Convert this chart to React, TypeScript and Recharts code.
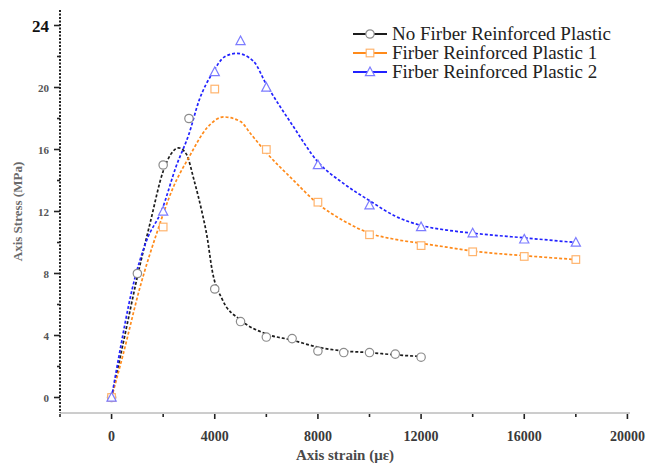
import React from 'react';
import { ComposedChart, Line, Scatter, XAxis, YAxis, Legend } from 'recharts';

const seriesNames = ['No Firber Reinforced Plastic', 'Firber Reinforced Plastic 1', 'Firber Reinforced Plastic 2'];
const lineColors = ['#1c1c1c', '#ff8a1a', '#2222ff'];
const markerColors = ['#8c8c8c', '#ffb46e', '#7c7cff'];

// fitted curves (strain in micro-strain, stress in MPa)
const noFrpCurveX = [0, 500, 1000, 1500, 2000, 2300, 2600, 2900, 3200, 3500, 3700, 3900, 4300, 5000, 6000, 7000, 8000, 9000, 10000, 11000, 12000];
const noFrpCurveY = [0, 3.9, 7.8, 11.3, 14.6, 15.7, 16.1, 15.7, 14.0, 12.0, 10.4, 8.2, 6.3, 5.0, 4.1, 3.7, 3.25, 3.0, 2.9, 2.75, 2.65];

const frp1CurveX = [0, 450, 1100, 1750, 2400, 3000, 3700, 4350, 5000, 5400, 6000, 7000, 8000, 9000, 10000, 11000, 12000, 13000, 14000, 16000, 18000];
const frp1CurveY = [0, 2.8, 7.1, 10.6, 13.6, 15.5, 17.4, 18.1, 17.8, 17.0, 15.8, 14.1, 12.5, 11.4, 10.6, 10.2, 9.95, 9.7, 9.45, 9.15, 8.9];

const frp2CurveX = [0, 300, 800, 1350, 1950, 2500, 3000, 3400, 3900, 4400, 4850, 5500, 6000, 7000, 8000, 9000, 10000, 11000, 12000, 13000, 14000, 16000, 18000];
const frp2CurveY = [0, 2.8, 7.0, 10.1, 12.1, 14.9, 17.0, 19.2, 20.9, 22.0, 22.2, 21.7, 20.2, 17.6, 15.2, 13.8, 12.7, 11.7, 11.1, 10.8, 10.6, 10.3, 10.0];

// measured points
const noFrpPtsX = [0, 1000, 2000, 3000, 4000, 5000, 6000, 7000, 8000, 9000, 10000, 11000, 12000];
const noFrpPtsY = [0, 8, 15, 18, 7, 4.9, 3.9, 3.8, 3.0, 2.9, 2.9, 2.8, 2.6];

const frp1PtsX = [0, 2000, 4000, 6000, 8000, 10000, 12000, 14000, 16000, 18000];
const frp1PtsY = [0, 11, 19.9, 16, 12.6, 10.5, 9.8, 9.4, 9.1, 8.9];

const frp2PtsX = [0, 2000, 4000, 5000, 6000, 8000, 10000, 12000, 14000, 16000, 18000];
const frp2PtsY = [0, 12, 21, 23, 20, 15, 12.4, 11, 10.6, 10.2, 10.0];

const xTicks = [-2000, 0, 2000, 4000, 6000, 8000, 10000, 12000, 14000, 16000, 18000, 20000];
const yTicks = [0, 2, 4, 6, 8, 10, 12, 14, 16, 18, 20, 22, 24];

const zip = (xs: number[], ys: number[]) => xs.map((x, i) => ({ x, y: ys[i] }));

const curves = [zip(noFrpCurveX, noFrpCurveY), zip(frp1CurveX, frp1CurveY), zip(frp2CurveX, frp2CurveY)];
const points = [zip(noFrpPtsX, noFrpPtsY), zip(frp1PtsX, frp1PtsY), zip(frp2PtsX, frp2PtsY)];

const FONT = "'Times New Roman', 'Liberation Serif', serif";

const Marker = ({ kind, cx, cy, color }: { kind: number; cx: number; cy: number; color: string }) => {
  if (kind === 0) return <circle cx={cx} cy={cy} r={4.2} fill="#fff" stroke={color} strokeWidth={1.2} />;
  if (kind === 1) return <rect x={cx - 3.8} y={cy - 3.8} width={7.6} height={7.6} fill="#fff" stroke={color} strokeWidth={1.2} />;
  return <path d={`M${cx},${cy - 5} L${cx + 4.6},${cy + 3.6} L${cx - 4.6},${cy + 3.6} Z`} fill="#fff" stroke={color} strokeWidth={1.2} />;
};

const XTick = (props: any) => {
  const { x, y, payload } = props;
  const v = payload.value;
  const major = v % 4000 === 0;
  return (
    <g>
      <line x1={x} x2={x} y1={y + 1} y2={y + (major ? 6 : 4)} stroke="#222" strokeWidth={1.6} />
      {major && (
        <text x={x} y={y + 28} textAnchor="middle" fontFamily={FONT} fontSize={14} fontWeight="bold" fill="#3a3a3a">
          {v}
        </text>
      )}
    </g>
  );
};

const YTick = (props: any) => {
  const { x, y, payload } = props;
  const v = payload.value;
  const major = v % 4 === 0;
  const top = v === 24;
  return (
    <g>
      <line x1={x - (major ? 6 : 3)} x2={x} y1={y} y2={y} stroke="#222" strokeWidth={1.6} />
      {major && (
        <text
          x={x - 11}
          y={y + (top ? 6 : 4)}
          textAnchor="end"
          fontFamily={FONT}
          fontSize={top ? 17 : 11}
          fontWeight="bold"
          fill={top ? '#111' : '#555'}
        >
          {v}
        </text>
      )}
    </g>
  );
};

// legend drawn as svg text so it uses the same serif face as the axes
const LegendBox = () => (
  <svg width={290} height={60} style={{ display: 'block' }}>
    {seriesNames.map((name, i) => (
      <g key={name}>
        <line x1={3} x2={37} y1={10 + i * 19} y2={10 + i * 19} stroke={lineColors[i]} strokeWidth={2} />
        <Marker kind={i} cx={20} cy={10 + i * 19} color={markerColors[i]} />
        <text x={42} y={16 + i * 19} fontFamily={FONT} fontSize={19} fill="#222">
          {name}
        </text>
      </g>
    ))}
  </svg>
);

export default function App() {
  return (
    <div style={{ position: 'absolute', left: 0, top: 0, width: 648, height: 470, background: '#fff' }}>
      <ComposedChart width={648} height={470} margin={{ top: 10, right: 18, bottom: 0, left: 0 }}>
        <XAxis
          type="number"
          dataKey="x"
          domain={[-2000, 20100]}
          ticks={xTicks}
          allowDataOverflow
          height={57}
          tickSize={0}
          tickMargin={0}
          tickLine={false}
          tick={<XTick />}
          axisLine={{ stroke: '#9a9a9a', strokeWidth: 1 }}
          label={{ value: 'Axis strain (με)', position: 'insideBottom', offset: 10, fontFamily: FONT, fontSize: 15, fontWeight: 'bold', fill: '#4a4a4a' }}
        />
        <XAxis
          xAxisId="top"
          orientation="top"
          type="number"
          dataKey="x"
          domain={[-2000, 20100]}
          height={0}
          tick={false}
          tickLine={false}
          axisLine={{ stroke: '#111', strokeWidth: 2.2 }}
        />
        <YAxis
          type="number"
          domain={[-1, 25]}
          ticks={yTicks}
          allowDataOverflow
          width={60}
          tickSize={0}
          tickMargin={0}
          tickLine={false}
          tick={<YTick />}
          axisLine={{ stroke: '#222', strokeWidth: 2, strokeDasharray: '2 1.5' }}
          label={{ value: 'Axis Stress (MPa)', angle: -90, position: 'insideLeft', offset: 17, fontFamily: FONT, fontSize: 13, fontWeight: 'bold', fill: '#6a6a6a', style: { textAnchor: 'middle' } }}
        />
        <YAxis
          yAxisId="right"
          orientation="right"
          type="number"
          domain={[-1, 25]}
          width={0}
          tick={false}
          tickLine={false}
          axisLine={{ stroke: '#333', strokeWidth: 2.5, strokeDasharray: '2 1.5' }}
        />
        <Legend verticalAlign="middle" layout="horizontal" content={<LegendBox />} wrapperStyle={{ top: 24, left: 350, width: 290 }} />
        {curves.map((d, i) => (
          <Line
            key={'c' + i}
            data={d}
            dataKey="y"
            type="monotone"
            stroke={lineColors[i]}
            strokeWidth={1.7}
            strokeDasharray="3 2"
            dot={false}
            activeDot={false}
            legendType="none"
            isAnimationActive={false}
          />
        ))}
        {points.map((d, i) => (
          <Scatter
            key={'p' + i}
            data={d}
            dataKey="y"
            legendType="none"
            isAnimationActive={false}
            shape={(p: any) => <Marker kind={i} cx={p.cx} cy={p.cy} color={markerColors[i]} />}
          />
        ))}
      </ComposedChart>
    </div>
  );
}
